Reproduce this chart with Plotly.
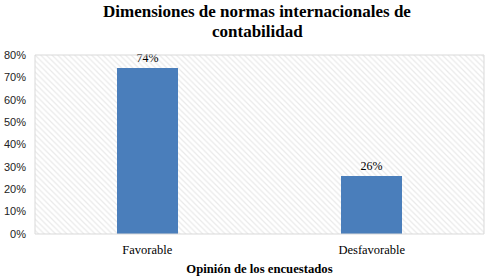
import plotly.graph_objects as go

title_lines = ["Dimensiones de normas internacionales de", "contabilidad"]
categories = ["Favorable", "Desfavorable"]
values = [0.74, 0.26]
labels = ["74%", "26%"]
tick_vals = [0, 0.1, 0.2, 0.3, 0.4, 0.5, 0.6, 0.7, 0.8]
tick_text = ["0%", "10%", "20%", "30%", "40%", "50%", "60%", "70%", "80%"]
x_title = "Opinión de los encuestados"

fig = go.Figure()
# hatched plot-area background (hidden base axis, drawn below the data axis)
fig.add_trace(go.Bar(x=[0.5], y=[0.8], width=[1], xaxis="x", yaxis="y",
                     marker=dict(color="white", line=dict(width=0),
                                 pattern=dict(shape="\\", fgcolor="#d4d4d4", bgcolor="white",
                                              size=4, solidity=0.3)),
                     hoverinfo="skip", showlegend=False))
fig.add_trace(go.Bar(x=categories, y=values, text=labels, textposition="outside",
                     textfont=dict(family="Liberation Serif", size=12, color="#000"),
                     marker=dict(color="#4a7ebb", line=dict(width=0)),
                     width=0.27, cliponaxis=False, showlegend=False,
                     xaxis="x2", yaxis="y"))

fig.update_layout(
    width=487, height=276,
    margin=dict(l=35, r=3, t=55, b=42, autoexpand=False),
    paper_bgcolor="white", plot_bgcolor="white",
    xaxis=dict(range=[0, 1], visible=False, fixedrange=True),
    xaxis2=dict(overlaying="x", showgrid=False, automargin=False,
                tickfont=dict(family="Liberation Serif", size=12.5, color="#000"),
                ticklabelstandoff=6,
                title=dict(text="<b>" + x_title + "</b>", standoff=12,
                           font=dict(family="Liberation Serif", size=12.7, color="#000")),
                ticks="", showline=False, zeroline=False, side="bottom"),
    yaxis=dict(range=[0, 0.8], tickvals=tick_vals, ticktext=tick_text, automargin=False,
               tickfont=dict(family="Liberation Sans", size=11, color="#222"),
               ticklabelstandoff=8,
               showgrid=True, gridcolor="#d9d9d9", gridwidth=1, zeroline=False,
               showline=False, ticks="", layer="below traces"),
    shapes=[
        dict(type="rect", xref="paper", yref="paper", x0=0, x1=1, y0=0, y1=1,
             line=dict(color="#d9d9d9", width=1), layer="above"),
        dict(type="line", xref="paper", yref="paper", x0=0.5, x1=0.5, y0=0, y1=1,
             line=dict(color="#d9d9d9", width=1), layer="below"),
    ],
    annotations=[
        dict(text="<b>" + title_lines[0] + "</b>", xref="paper", yref="paper", x=0.495, y=1,
             yshift=44, xanchor="center", yanchor="middle", showarrow=False,
             font=dict(family="Liberation Serif", size=17, color="#000")),
        dict(text="<b>" + title_lines[1] + "</b>", xref="paper", yref="paper", x=0.495, y=1,
             yshift=24, xanchor="center", yanchor="middle", showarrow=False,
             font=dict(family="Liberation Serif", size=17, color="#000")),
    ],
    bargap=0,
)
fig.write_html("out.html", config={"displayModeBar": False},
               post_script="document.body.style.margin='0';")
